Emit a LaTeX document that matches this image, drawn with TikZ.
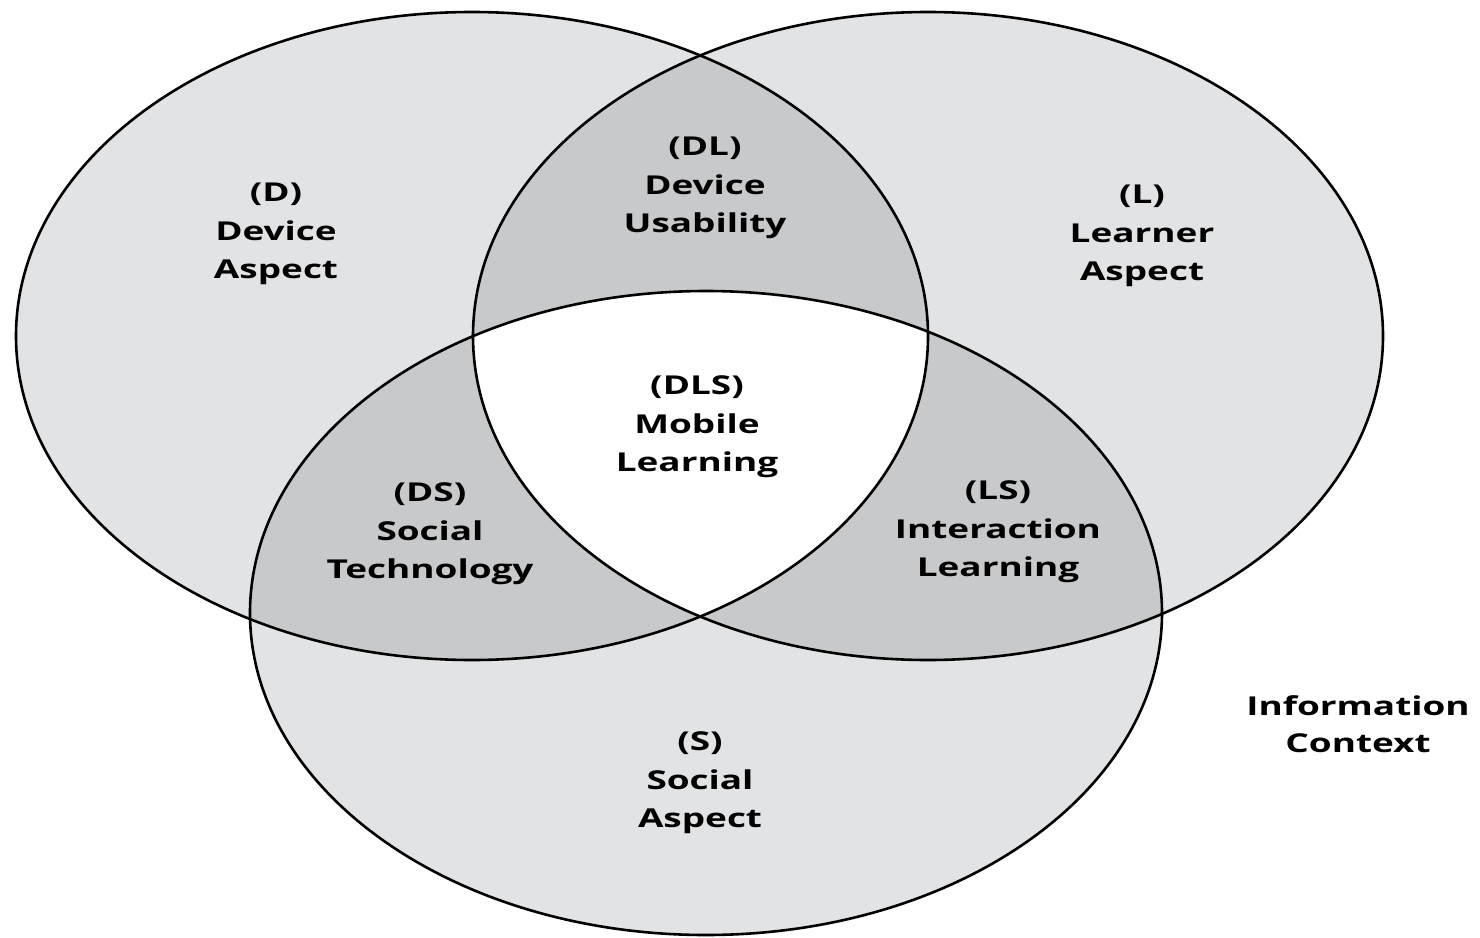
\documentclass[tikz,border=0pt]{standalone}
\usepackage{fontspec}
\setmainfont{Open Sans}
\definecolor{light}{RGB}{226,227,229}
\definecolor{mid}{RGB}{200,201,203}
\newcommand\wx[1]{\scalebox{1.42}[1]{#1}}
\tikzset{
  lbl/.style={align=center, font=\bfseries\fontsize{26}{38.5}\selectfont, inner sep=0pt},
  outline/.style={draw=black, line width=2.6pt}
}
\begin{document}
\begin{tikzpicture}[x=1pt,y=-1pt]
\useasboundingbox (0,0) rectangle (1480,937);
\fill[white] (0,0) rectangle (1480,937);
\def\ED{(472,336) ellipse [x radius=456, y radius=324]}
\def\EL{(928,336) ellipse [x radius=455, y radius=324]}
\def\ES{(706,613) ellipse [x radius=456, y radius=322]}
% base fills
\fill[light] \ED;
\fill[light] \EL;
\fill[light] \ES;
% pairwise
\begin{scope}\clip \ED; \fill[mid] \EL; \end{scope}
\begin{scope}\clip \ED; \fill[mid] \ES; \end{scope}
\begin{scope}\clip \EL; \fill[mid] \ES; \end{scope}
% triple
\begin{scope}\clip \ED; \clip \EL; \fill[white] \ES; \end{scope}
% outlines
\draw[outline] \ED;
\draw[outline] \EL;
\draw[outline] \ES;
% labels
\node[lbl] (d) at (276,234) {\wx{(D)}\\\wx{Device}\\\wx{Aspect}};
\node[lbl] (dl) at (705,188) {\wx{(DL)}\\\wx{Device}\\\wx{Usability}};
\node[lbl] (l) at (1142,236) {\wx{(L)}\\\wx{Learner}\\\wx{Aspect}};
\node[lbl] (dls) at (697,427) {\wx{(DLS)}\\\wx{Mobile}\\\wx{Learning}};
\node[lbl] (ds) at (430,534) {\wx{(DS)}\\\wx{Social}\\\wx{Technology}};
\node[lbl] (ls) at (998,532) {\wx{(LS)}\\\wx{Interaction}\\\wx{Learning}};
\node[lbl] (s) at (700,783) {\wx{(S)}\\\wx{Social}\\\wx{Aspect}};
\node[lbl, font=\bfseries\fontsize{26}{37}\selectfont] (ic) at (1358,724) {\wx{Information}\\\wx{Context}};
\end{tikzpicture}
\end{document}
